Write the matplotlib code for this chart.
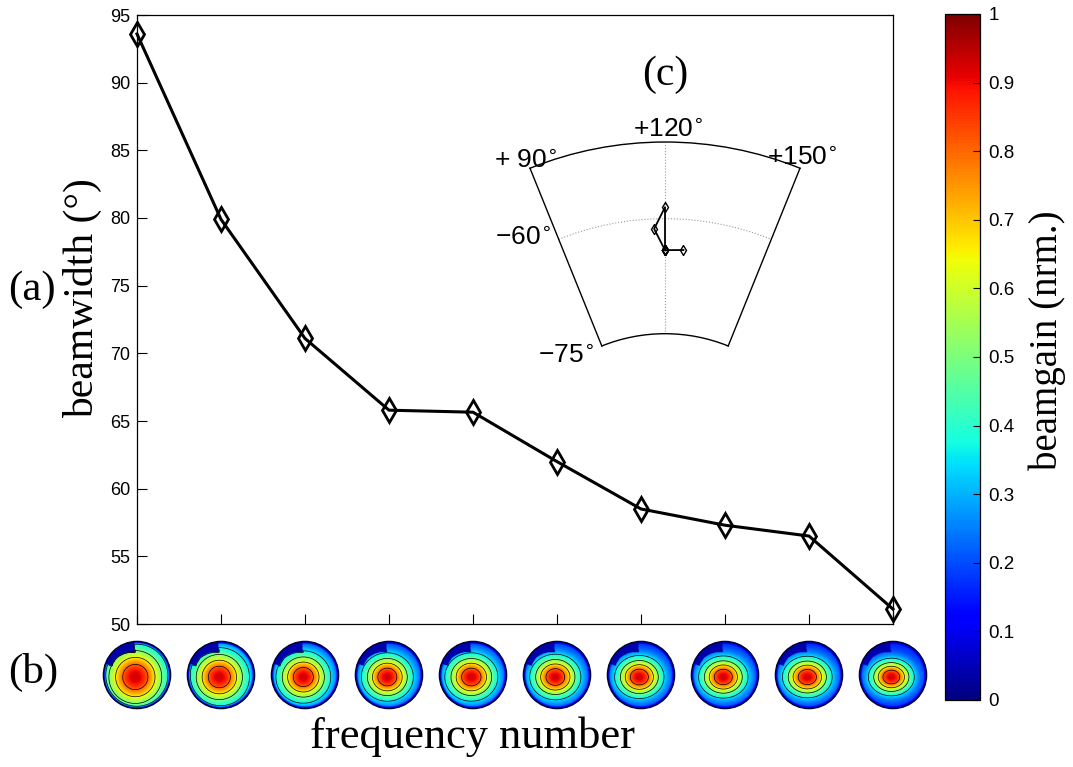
import matplotlib
matplotlib.use("Agg")
import matplotlib.pyplot as plt
import numpy as np
from matplotlib.cm import ScalarMappable
from matplotlib.colors import Normalize
from matplotlib.patches import Circle

freq_number = np.arange(1, 11)
beamwidth = [93.6, 79.9, 71.1, 65.8, 65.65, 62.0, 58.5, 57.3, 56.5, 51.1]

# steering direction of each beam (azimuth / elevation, deg)
steer_az = [125.7, 120.0, 120.0, 116.9, 120.0, 120.0, 120.0, 120.0, 120.0, 120.0]
steer_el = [-64.0, -64.1, -58.5, -61.3, -64.1, -64.1, -64.1, -64.1, -64.1, -64.1]

bw_ticks = np.arange(50, 96, 5)
gain_ticks = np.round(np.arange(0, 1.01, 0.1), 1)
gain_levels = [0.35, 0.5, 0.65, 0.8]

SERIF = "Liberation Serif"
SANS = "Liberation Sans"
W, H = 1073, 767


def fig_box(x0, y0, x1, y1):
    """pixel box (top-left origin) -> figure fraction rect"""
    return [x0 / W, 1 - y1 / H, (x1 - x0) / W, (y1 - y0) / H]


def beam_pattern(bw, k, n=121):
    u = np.linspace(-1, 1, n)
    X, Y = np.meshgrid(u, u)
    rho = np.hypot(X, Y)
    stretch = 1 + 0.22 * k / 9
    theta = 90 * np.hypot((X + 0.05) / stretch, Y + 0.06)
    g = 0.15 + 0.78 * np.exp(-1.4 * (theta / bw) ** 2)
    g = g * np.clip((1 - rho) / 0.09, 0.12, 1)
    phi = np.degrees(np.arctan2(Y, X))
    inner = 0.68 + 0.12 * np.clip((phi - 96) / 45, 0, 1)
    notch = (phi > 95) & (phi < 160) & (rho > inner)
    g[notch] = 0.04
    return X, Y, g


fig = plt.figure(figsize=(W / 100, H / 100), dpi=100)

# (a) beamwidth per frequency
ax = fig.add_axes(fig_box(137, 15, 893, 624))
ax.plot(freq_number, beamwidth, color="k", lw=2.2, marker="d", ms=12,
        mfc="none", mew=2.0, clip_on=False, zorder=3)
ax.set_xlim(1, 10)
ax.set_ylim(50, 95)
ax.set_xticks(freq_number)
ax.set_xticklabels([])
ax.set_yticks(bw_ticks)
ax.tick_params(direction="in", length=7, width=0.8, labelsize=13, pad=5)
for lab in ax.get_yticklabels():
    lab.set_fontfamily(SANS)
for sp in ax.spines.values():
    sp.set_linewidth(0.9)
ax.set_ylabel("beamwidth (°)", fontfamily=SERIF, fontsize=30)
ax.yaxis.set_label_coords(-0.046, 0.535)

fig.text(8 / W, 1 - 290 / H, "(a)", fontfamily=SERIF, fontsize=31, va="center")
fig.text(8 / W, 1 - 672 / H, "(b)", fontfamily=SERIF, fontsize=31, va="center")
fig.text(472 / W, 1 - 737 / H, "frequency number", fontfamily=SERIF,
         fontsize=32, ha="center", va="center")

# (b) beam patterns below each frequency
dax = fig.add_axes(fig_box(95, 633, 935, 717))
dax.set_xlim(0.5, 10.5)
dax.set_ylim(-0.5, 0.5)
dax.axis("off")
rad = 0.4
for k, (xc, bw) in enumerate(zip(freq_number, beamwidth)):
    X, Y, g = beam_pattern(bw, k)
    clip = Circle((xc, 0), rad, transform=dax.transData)
    im = dax.imshow(g, extent=[xc - rad, xc + rad, -rad, rad], origin="lower",
                    cmap="jet", vmin=0, vmax=1, interpolation="bilinear",
                    aspect="auto")
    im.set_clip_path(clip)
    cs = dax.contour(xc + X * rad, Y * rad, g, levels=gain_levels,
                     colors="k", linewidths=0.5)
    cs.set_clip_path(clip)
    dax.add_patch(Circle((xc, 0), rad, fc="none", ec="#00002a", lw=1.0))

# colorbar
cax = fig.add_axes(fig_box(945, 14, 980, 700))
cb = fig.colorbar(ScalarMappable(Normalize(0, 1), cmap="jet"), cax=cax,
                  ticks=gain_ticks)
cb.set_ticklabels([f"{t:g}" for t in gain_ticks])
cb.outline.set_linewidth(0.9)
cax.tick_params(direction="in", length=5, width=0.8, labelsize=13.5, pad=6)
for lab in cax.get_yticklabels():
    lab.set_fontfamily(SANS)
fig.text(1047 / W, 1 - 340 / H, "beamgain (nrm.)", fontfamily=SERIF,
         fontsize=28, rotation=90, ha="center", va="center")

# (c) steering directions on an az/el sector
AZ_SCALE = 22 / 30
pax = fig.add_axes(fig_box(485, 109, 845, 379), projection="polar")
pax.set_theta_zero_location("N")
pax.set_theta_direction(-1)
pax.set_thetamin(-22)
pax.set_thetamax(22)
pax.set_ylim(-75, -50)
pax.set_rorigin(-97)
theta = np.deg2rad((np.array(steer_az) - 120) * AZ_SCALE)
pax.plot(theta, steer_el, color="k", lw=1.3, marker="d", ms=5.5,
         mfc="none", mew=1.0)
pax.set_xticks([0])
pax.set_yticks([-60])
pax.set_xticklabels([])
pax.set_yticklabels([])
pax.grid(True, color="#999999", ls=":", lw=0.8)
for name in ("polar", "start", "end", "inner"):
    pax.spines[name].set_linewidth(1.0)


def az_label(txt, az, el, dx, dy, ha, va):
    pax.annotate(txt, xy=(np.deg2rad((az - 120) * AZ_SCALE), el),
                 xytext=(dx, dy), textcoords="offset pixels", ha=ha, va=va,
                 fontfamily=SANS, fontsize=19, annotation_clip=False)


az_label(r"+ 90$^{\circ}$", 90, -50, 27, 0, "right", "baseline")
az_label(r"+120$^{\circ}$", 120, -50, 3, 5, "center", "baseline")
az_label(r"+150$^{\circ}$", 150, -50, -33, 3, "left", "baseline")
az_label(r"−60$^{\circ}$", 90, -60, -8, 1, "right", "center")
az_label(r"−75$^{\circ}$", 90, -75, -8, -17, "right", "baseline")

fig.text(665 / W, 1 - 75 / H, "(c)", fontfamily=SERIF, fontsize=30,
         ha="center", va="center")

fig.savefig("out.png", dpi=100)
